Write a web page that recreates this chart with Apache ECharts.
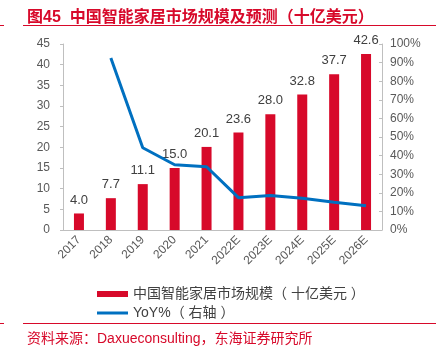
<!DOCTYPE html>
<html>
<head>
<meta charset="utf-8">
<script src="https://cdn.jsdelivr.net/npm/echarts@6/dist/echarts.min.js"></script>
<style>
  html, body { margin: 0; padding: 0; background: #fff; }
  #main { width: 436px; height: 352px; }
</style>
</head>
<body>
<div id="main"></div>
<script>
var years = ['2017', '2018', '2019', '2020', '2021', '2022E', '2023E', '2024E', '2025E', '2026E'];
var marketSize = [4.0, 7.7, 11.1, 15.0, 20.1, 23.6, 28.0, 32.8, 37.7, 42.6];
var yoy = [null, 92.5, 44.2, 35.1, 34.0, 17.4, 18.6, 17.1, 14.9, 13.0];

var red = '#d7092a';
var blue = '#0070c0';
var gray = '#595959';
var font = '"Liberation Sans", "Noto Sans CJK SC", sans-serif';
var barName = '中国智能家居市场规模（ 十亿美元 ）';
var lineName = 'YoY%（ 右轴 ）';

var chart = echarts.init(document.getElementById('main'));
chart.setOption({
    animation: false,
    textStyle: { fontFamily: font },
    title: [
        {
            text: '图45  中国智能家居市场规模及预测（十亿美元）',
            left: 22, top: 5,
            textStyle: { color: red, fontSize: 16, fontWeight: 'bold', fontFamily: font }
        },
        {
            text: '资料来源：Daxueconsulting，东海证券研究所',
            left: 22, top: 327,
            textStyle: { color: red, fontSize: 14, fontWeight: 'normal', fontFamily: font }
        }
    ],
    graphic: [
        { type: 'line', shape: { x1: 23, y1: 25.5, x2: 436, y2: 25.5 }, style: { stroke: red, lineWidth: 1 } },
        { type: 'line', shape: { x1: 0, y1: 25.5, x2: 4, y2: 25.5 }, style: { stroke: red, lineWidth: 1 } },
        { type: 'line', shape: { x1: 23, y1: 323.5, x2: 436, y2: 323.5 }, style: { stroke: red, lineWidth: 1 } },
        { type: 'line', shape: { x1: 0, y1: 323.5, x2: 4, y2: 323.5 }, style: { stroke: red, lineWidth: 1 } }
    ],
    legend: [
        {
            left: 97, top: 287, padding: 0,
            itemWidth: 31, itemHeight: 6,
            textStyle: { color: '#404040', fontSize: 14, fontFamily: font },
            data: [{ name: barName, icon: 'rect' }]
        },
        {
            left: 97, top: 306, padding: 0,
            itemWidth: 31, itemHeight: 3,
            textStyle: { color: '#404040', fontSize: 14, fontFamily: font },
            data: [{ name: lineName, icon: 'rect', itemStyle: { color: blue } }]
        }
    ],
    grid: { left: 63, right: 54, top: 44, bottom: 122 },
    xAxis: {
        type: 'category',
        data: years,
        axisLine: { lineStyle: { color: '#bfbfbf' } },
        axisTick: { lineStyle: { color: '#bfbfbf' } },
        axisLabel: { rotate: 45, color: gray, fontSize: 12, margin: 8 }
    },
    yAxis: [
        {
            type: 'value', min: 0, max: 45, interval: 5,
            splitLine: { show: false },
            axisLine: { show: true, lineStyle: { color: '#bfbfbf' } },
            axisTick: { show: true, length: 3, lineStyle: { color: '#bfbfbf' } },
            axisLabel: { color: gray, fontSize: 12, margin: 13 }
        },
        {
            type: 'value', min: 0, max: 100, interval: 10,
            splitLine: { show: false },
            axisLine: { show: true, lineStyle: { color: '#bfbfbf' } },
            axisTick: { show: true, inside: true, length: 3, lineStyle: { color: '#bfbfbf' } },
            axisLabel: { color: gray, fontSize: 12, margin: 8, formatter: '{value}%' }
        }
    ],
    series: [
        {
            name: barName,
            type: 'bar',
            barWidth: 10,
            data: marketSize,
            itemStyle: { color: red },
            label: {
                show: true, position: 'top', distance: 7,
                color: '#404040', fontSize: 13,
                formatter: function (p) { return p.value.toFixed(1); }
            }
        },
        {
            name: lineName,
            type: 'line',
            yAxisIndex: 1,
            data: yoy,
            symbol: 'none',
            lineStyle: { color: blue, width: 3 },
            itemStyle: { color: blue }
        }
    ]
});
</script>
</body>
</html>
